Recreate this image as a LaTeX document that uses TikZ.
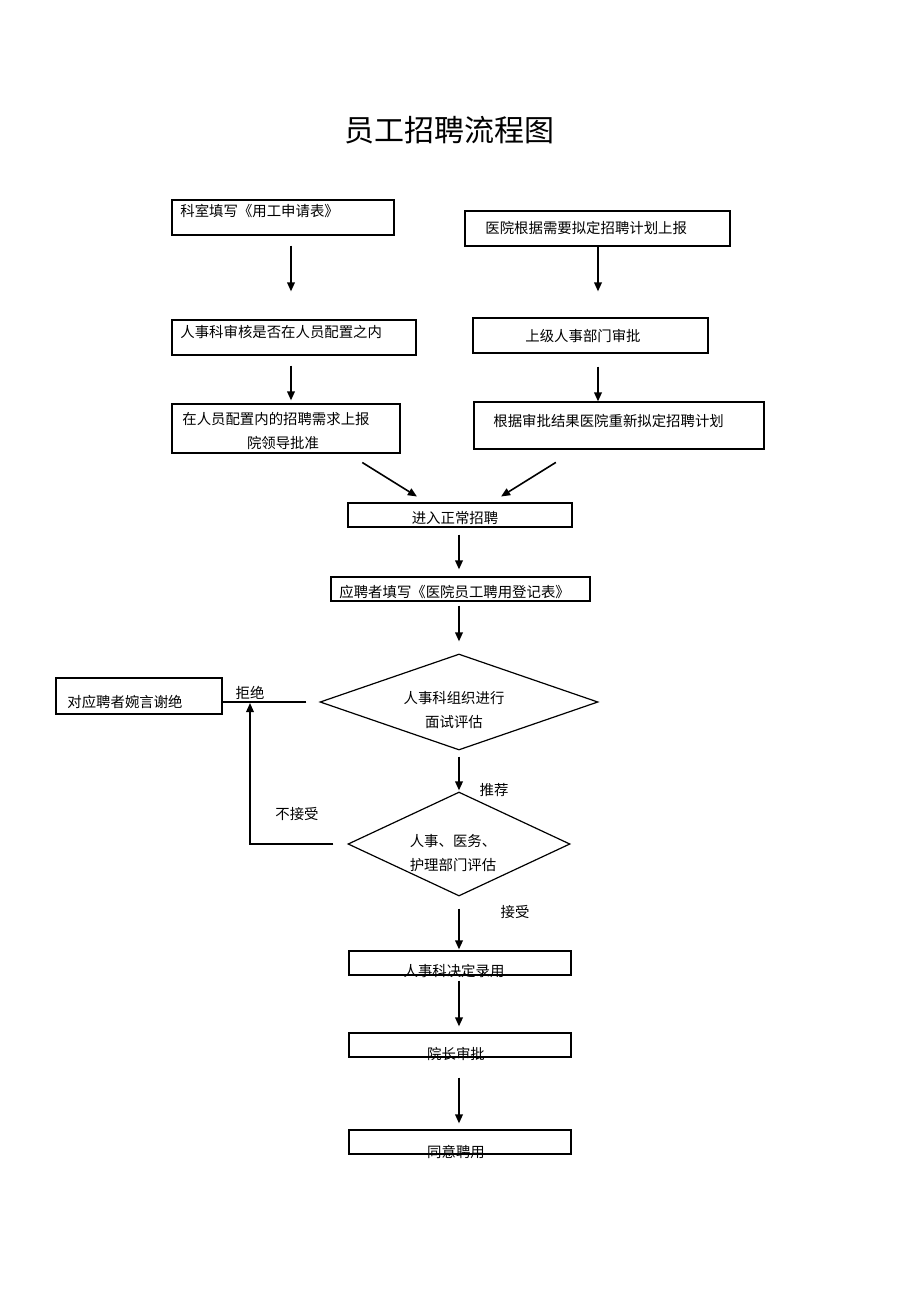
\documentclass[tikz,border=0pt]{standalone}
\usepackage{fontspec}
\setmainfont{Noto Sans CJK SC}
\usetikzlibrary{arrows.meta, shapes.geometric}

\begin{document}
\begin{tikzpicture}[
  x=0.5pt, y=-0.5pt,
  box/.style={draw, line width=0.6pt, inner sep=0pt},
  dia/.style={draw, diamond, line width=0.6pt, inner sep=0pt},
  txt/.style={inner sep=0pt, font=\fontsize{7.2pt}{12pt}\selectfont},
  arr/.style={-{Triangle[length=4.5pt, width=3.8pt]}, line width=0.8pt},
  lin/.style={line width=0.6pt}
]
  \useasboundingbox (0,0) rectangle (920,1303);
  \node[font=\fontsize{15pt}{18pt}\selectfont] (title) at (449,130) {员工招聘流程图};

  % arrow columns
  \coordinate (colL) at (291,0);
  \coordinate (colR) at (598,0);
  \coordinate (colM) at (459,0);

  % boxes
  \node[box, minimum width=111pt, minimum height=17.5pt] (a1) at (283,217.5) {};
  \node[box, minimum width=132.5pt, minimum height=17.5pt] (b1) at (597.5,228.5) {};
  \node[box, minimum width=122pt, minimum height=17.5pt] (a2) at (294,337.5) {};
  \node[box, minimum width=117.5pt, minimum height=17.5pt] (b2) at (590.5,335.5) {};
  \node[box, minimum width=114pt, minimum height=24.5pt] (a3) at (286,428.5) {};
  \node[box, minimum width=145pt, minimum height=23.5pt] (b3) at (619,425.5) {};
  \node[box, minimum width=112pt, minimum height=12pt] (c1) at (460,515) {};
  \node[box, minimum width=129.5pt, minimum height=12pt] (c2) at (460.5,589) {};
  \node[dia, minimum width=139pt, minimum height=48pt] (d1) at (459,702) {};
  \node[dia, minimum width=111pt, minimum height=52pt] (d2) at (459,844) {};
  \node[box, line width=0.9pt, minimum width=83pt, minimum height=18pt] (rej) at (139,696) {};
  \node[box, minimum width=111pt, minimum height=12pt] (e1) at (460,963) {};
  \node[box, minimum width=111pt, minimum height=12pt] (e2) at (460,1045) {};
  \node[box, minimum width=111pt, minimum height=12pt] (e3) at (460,1142) {};

  % texts
  \node[txt, anchor=west] (ta1) at (180,211) {科室填写《用工申请表》};
  \node[txt, anchor=west] (tb1) at (485,228) {医院根据需要拟定招聘计划上报};
  \node[txt, anchor=west] (ta2) at (180,332) {人事科审核是否在人员配置之内};
  \node[txt] (tb2) at (583,336) {上级人事部门审批};
  \node[txt, anchor=west] (ta3) at (182,419) {在人员配置内的招聘需求上报};
  \node[txt] (ta3b) at (283,443) {院领导批准};
  \node[txt, anchor=west] (tb3) at (493,421) {根据审批结果医院重新拟定招聘计划};
  \node[txt] (tc1) at (455,518) {进入正常招聘};
  \node[txt, anchor=west] (tc2) at (339,592) {应聘者填写《医院员工聘用登记表》};
  \node[txt, align=center] (td1) at (454,710) {人事科组织进行\\面试评估};
  \node[txt, align=center] (td2) at (453,853) {人事、医务、\\护理部门评估};
  \node[txt, anchor=west] (trej) at (67,702) {对应聘者婉言谢绝};
  \node[txt] (te1) at (454,971) {人事科决定录用};
  \node[txt] (te2) at (456,1054) {院长审批};
  \node[txt] (te3) at (456,1152) {同意聘用};
  \node[txt] (lrej) at (250,693) {拒绝};
  \node[txt] (lno) at (297,814) {不接受};
  \node[txt] (lrec) at (494,790) {推荐};
  \node[txt] (lacc) at (515,912) {接受};

  % connectors
  \draw[arr, shorten <=5pt, shorten >=14pt] (a1.south -| colL) -- (a2.north -| colL);
  \draw[arr, shorten >=13pt] (b1.south -| colR) -- (b2.north -| colR);
  \draw[arr, shorten <=5pt, shorten >=1.5pt] (a2.south -| colL) -- (a3.north -| colL);
  \draw[arr, shorten <=6.5pt] (b2.south -| colR) -- (b3.north -| colR);
  \draw[arr, shorten <=8.4pt, shorten >=5.6pt] ([xshift=31pt]a3.south) -- ([xshift=-16.8pt]c1.north);
  \draw[arr, shorten <=12.1pt, shorten >=5.6pt] ([xshift=-21.3pt]b3.south) -- ([xshift=15.8pt]c1.north);
  \draw[arr, shorten <=3.5pt, shorten >=3.5pt] (c1.south -| colM) -- (c2.north -| colM);
  \draw[arr, shorten <=2pt, shorten >=6pt] (c2.south -| colM) -- (d1.north);
  \draw[arr, shorten <=3pt, shorten >=0.5pt] (d1.south) -- (d2.north);
  \draw[arr, shorten <=6pt, shorten >=0.5pt] (d2.south) -- (e1.north -| colM);
  \draw[arr, shorten <=2.5pt, shorten >=3pt] (e1.south -| colM) -- (e2.north -| colM);
  \draw[arr, shorten <=10pt, shorten >=3pt] (e2.south -| colM) -- (e3.north -| colM);

  \coordinate (join) at (250,702);
  \draw[lin, shorten <=6.5pt] (d1.west) -- (rej.east |- d1.west);
  \draw[arr, line width=0.7pt, shorten <=7pt, shorten >=0.5pt] (d2.west) -| (join);
\end{tikzpicture}
\end{document}
